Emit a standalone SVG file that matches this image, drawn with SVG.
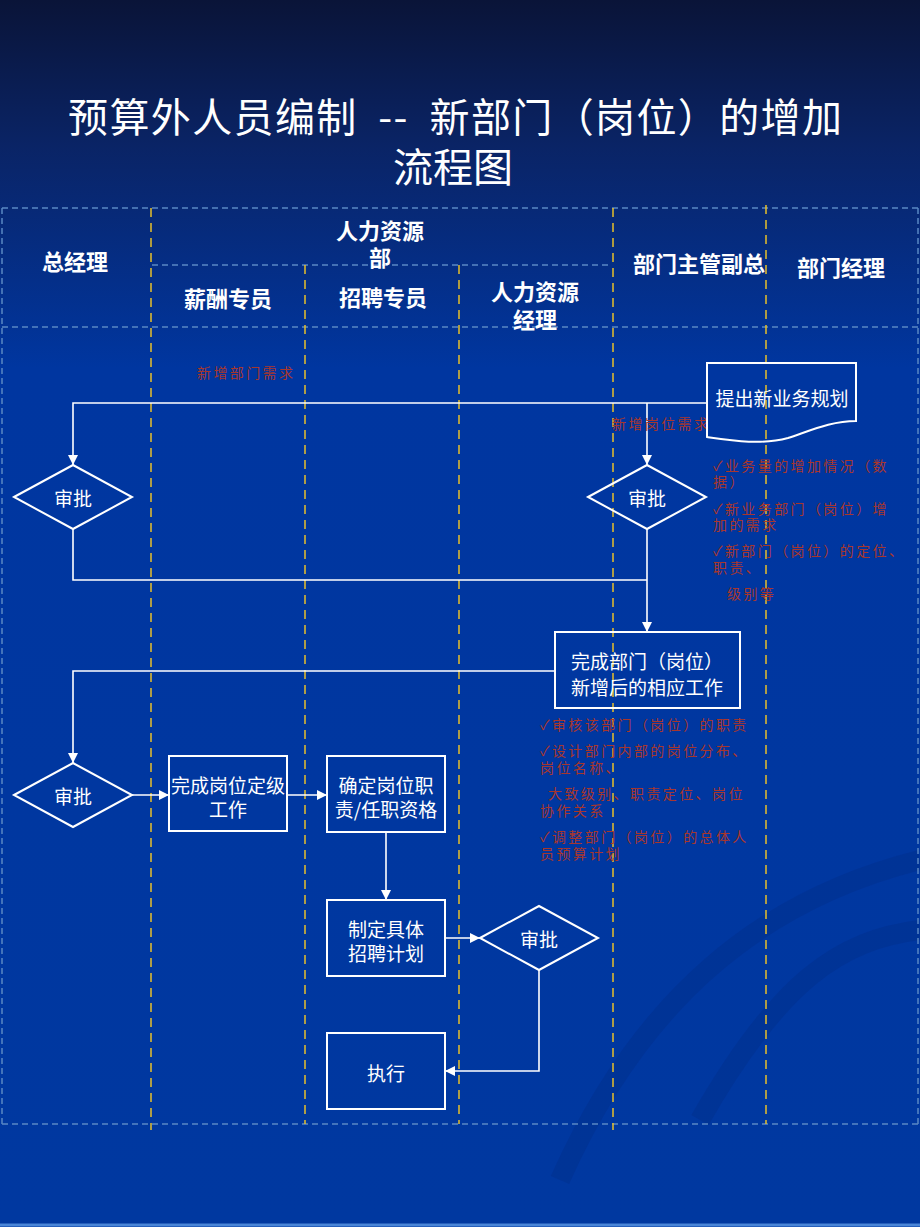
<svg xmlns="http://www.w3.org/2000/svg" width="920" height="1227" viewBox="0 0 920 1227">
<defs>
<linearGradient id="bg" x1="0" y1="0" x2="0" y2="1">
<stop offset="0" stop-color="#0a1438"/>
<stop offset="0.12" stop-color="#0a2466"/>
<stop offset="0.3" stop-color="#0036a0"/>
<stop offset="1" stop-color="#0038a0"/>
</linearGradient>
<marker id="arr" viewBox="0 0 10 10" refX="10" refY="5" markerWidth="10" markerHeight="10" markerUnits="userSpaceOnUse" orient="auto">
<path d="M0,0 L10,5 L0,10 Z" fill="#ffffff"/>
</marker>
<style>
.lane{stroke:#5a88c4;stroke-width:1.5;stroke-dasharray:6 4;fill:none}
.ylane{stroke:#e8c02a;stroke-width:1.5;stroke-dasharray:9 6;fill:none}
.hdr{font-family:"Noto Sans CJK SC","Liberation Sans",sans-serif;font-weight:bold;font-size:22px;fill:#ffffff;text-anchor:middle;dominant-baseline:central}
.shape{fill:none;stroke:#ffffff;stroke-width:2}
.lbl{font-family:"Noto Sans CJK SC","Liberation Sans",sans-serif;font-size:19px;fill:#ffffff;text-anchor:middle;dominant-baseline:central}
.con{fill:none;stroke:#ffffff;stroke-width:1.6}
.note{font-family:"Noto Sans CJK SC","Liberation Sans",sans-serif;font-size:14px;letter-spacing:2.4px;fill:#a8362c;dominant-baseline:central}
.title{font-family:"Noto Sans CJK SC","Liberation Sans",sans-serif;font-size:40px;fill:#ffffff;text-anchor:middle}
</style>
</defs>
<rect x="0" y="0" width="920" height="1227" fill="url(#bg)"/>
<g fill="none" stroke="#002a80" stroke-opacity="0.3" stroke-width="20">
<path d="M560,1180 C640,1000 760,900 920,860"/>
<path d="M700,1120 C780,980 840,940 920,930"/>
</g>
<line x1="0" y1="1225" x2="920" y2="1225" stroke="#4a86d8" stroke-width="3"/>
<g id="title">
<text class="title" x="455" y="132" textLength="774" lengthAdjust="spacing" xml:space="preserve">预算外人员编制  --  新部门（岗位）的增加</text>
<text class="title" x="453" y="182">流程图</text>
</g>
<g id="lanes">
<line class="lane" x1="2" y1="208" x2="918" y2="208"/>
<line class="lane" x1="2" y1="327" x2="918" y2="327"/>
<line class="lane" x1="2" y1="1124" x2="918" y2="1124"/>
<line class="lane" x1="152" y1="265" x2="612" y2="265"/>
<line class="lane" x1="2" y1="208" x2="2" y2="1124"/>
<line class="lane" x1="918" y1="208" x2="918" y2="1124"/>
<line class="ylane" x1="151" y1="208" x2="151" y2="1130"/>
<line class="ylane" x1="305" y1="265" x2="305" y2="1124"/>
<line class="ylane" x1="459" y1="265" x2="459" y2="1124"/>
<line class="ylane" x1="613" y1="208" x2="613" y2="1130"/>
<line class="ylane" x1="766" y1="205" x2="766" y2="1124"/>
<text class="hdr" x="75" y="260">总经理</text>
<text class="hdr" x="380" y="229">人力资源</text>
<text class="hdr" x="380" y="256">部</text>
<text class="hdr" x="699" y="262">部门主管副总</text>
<text class="hdr" x="841" y="266">部门经理</text>
<text class="hdr" x="228" y="297">薪酬专员</text>
<text class="hdr" x="383" y="296">招聘专员</text>
<text class="hdr" x="535" y="290">人力资源</text>
<text class="hdr" x="535" y="318">经理</text>
</g>
<g id="connectors">
<polyline class="con" points="707,403 73,403 73,465" marker-end="url(#arr)"/>
<polyline class="con" points="647,403 647,465" marker-end="url(#arr)"/>
<polyline class="con" points="73,529 73,580 647,580"/>
<polyline class="con" points="647,529 647,632" marker-end="url(#arr)"/>
<polyline class="con" points="555,671 73,671 73,763" marker-end="url(#arr)"/>
<polyline class="con" points="132,795 169,795" marker-end="url(#arr)"/>
<polyline class="con" points="287,795 327,795" marker-end="url(#arr)"/>
<polyline class="con" points="386,832 386,900" marker-end="url(#arr)"/>
<polyline class="con" points="445,938 480,938" marker-end="url(#arr)"/>
<polyline class="con" points="539,970 539,1071 445,1071" marker-end="url(#arr)"/>
<text class="note" x="197" y="372">新增部门需求</text>
<text class="note" x="612" y="423">新增岗位需求</text>
</g>
<g id="n-plan">
<path class="shape" d="M707,363 H856 V421 C832,421 812,430 788,438 C762,445 735,441 707,437 Z"/>
<text class="lbl" x="782" y="397">提出新业务规划</text>
</g>
<g id="n-approve-gm">
<polygon class="shape" points="14,497 73,465 132,497 73,529"/>
<text class="lbl" x="73" y="497">审批</text>
</g>
<g id="n-approve-vp">
<polygon class="shape" points="588,497 647,465 706,497 647,529"/>
<text class="lbl" x="647" y="497">审批</text>
</g>
<g id="n-notes1">
<text class="note" x="713" y="465">✓业务量的增加情况（数</text>
<text class="note" x="713" y="481">据）</text>
<text class="note" x="713" y="508">✓新业务部门（岗位）增</text>
<text class="note" x="713" y="524">加的需求</text>
<text class="note" x="713" y="550">✓新部门（岗位）的定位、</text>
<text class="note" x="713" y="567">职责、</text>
<text class="note" x="727" y="593">级别等</text>
</g>
<g id="n-complete-dept">
<rect class="shape" x="555" y="632" width="185" height="76"/>
<text class="lbl" x="647" y="660">完成部门（岗位）</text>
<text class="lbl" x="647" y="686">新增后的相应工作</text>
</g>
<g id="n-notes2">
<text class="note" x="540" y="724">✓审核该部门（岗位）的职责</text>
<text class="note" x="540" y="750">✓设计部门内部的岗位分布、</text>
<text class="note" x="540" y="767">岗位名称、</text>
<text class="note" x="548" y="793">大致级别、职责定位、岗位</text>
<text class="note" x="540" y="810">协作关系</text>
<text class="note" x="540" y="836">✓调整部门（岗位）的总体人</text>
<text class="note" x="540" y="853">员预算计划</text>
</g>
<g id="n-approve-gm2">
<polygon class="shape" points="14,795 73,763 132,795 73,827"/>
<text class="lbl" x="73" y="795">审批</text>
</g>
<g id="n-grade">
<rect class="shape" x="169" y="756" width="118" height="75"/>
<text class="lbl" x="228" y="784">完成岗位定级</text>
<text class="lbl" x="228" y="808">工作</text>
</g>
<g id="n-duty">
<rect class="shape" x="327" y="756" width="118" height="76"/>
<text class="lbl" x="386" y="784">确定岗位职</text>
<text class="lbl" x="386" y="808">责/任职资格</text>
</g>
<g id="n-plan-recruit">
<rect class="shape" x="327" y="900" width="118" height="76"/>
<text class="lbl" x="386" y="928">制定具体</text>
<text class="lbl" x="386" y="952">招聘计划</text>
</g>
<g id="n-approve-hr">
<polygon class="shape" points="480,938 539,906 598,938 539,970"/>
<text class="lbl" x="539" y="938">审批</text>
</g>
<g id="n-exec">
<rect class="shape" x="327" y="1033" width="118" height="76"/>
<text class="lbl" x="386" y="1072">执行</text>
</g>
</svg>
